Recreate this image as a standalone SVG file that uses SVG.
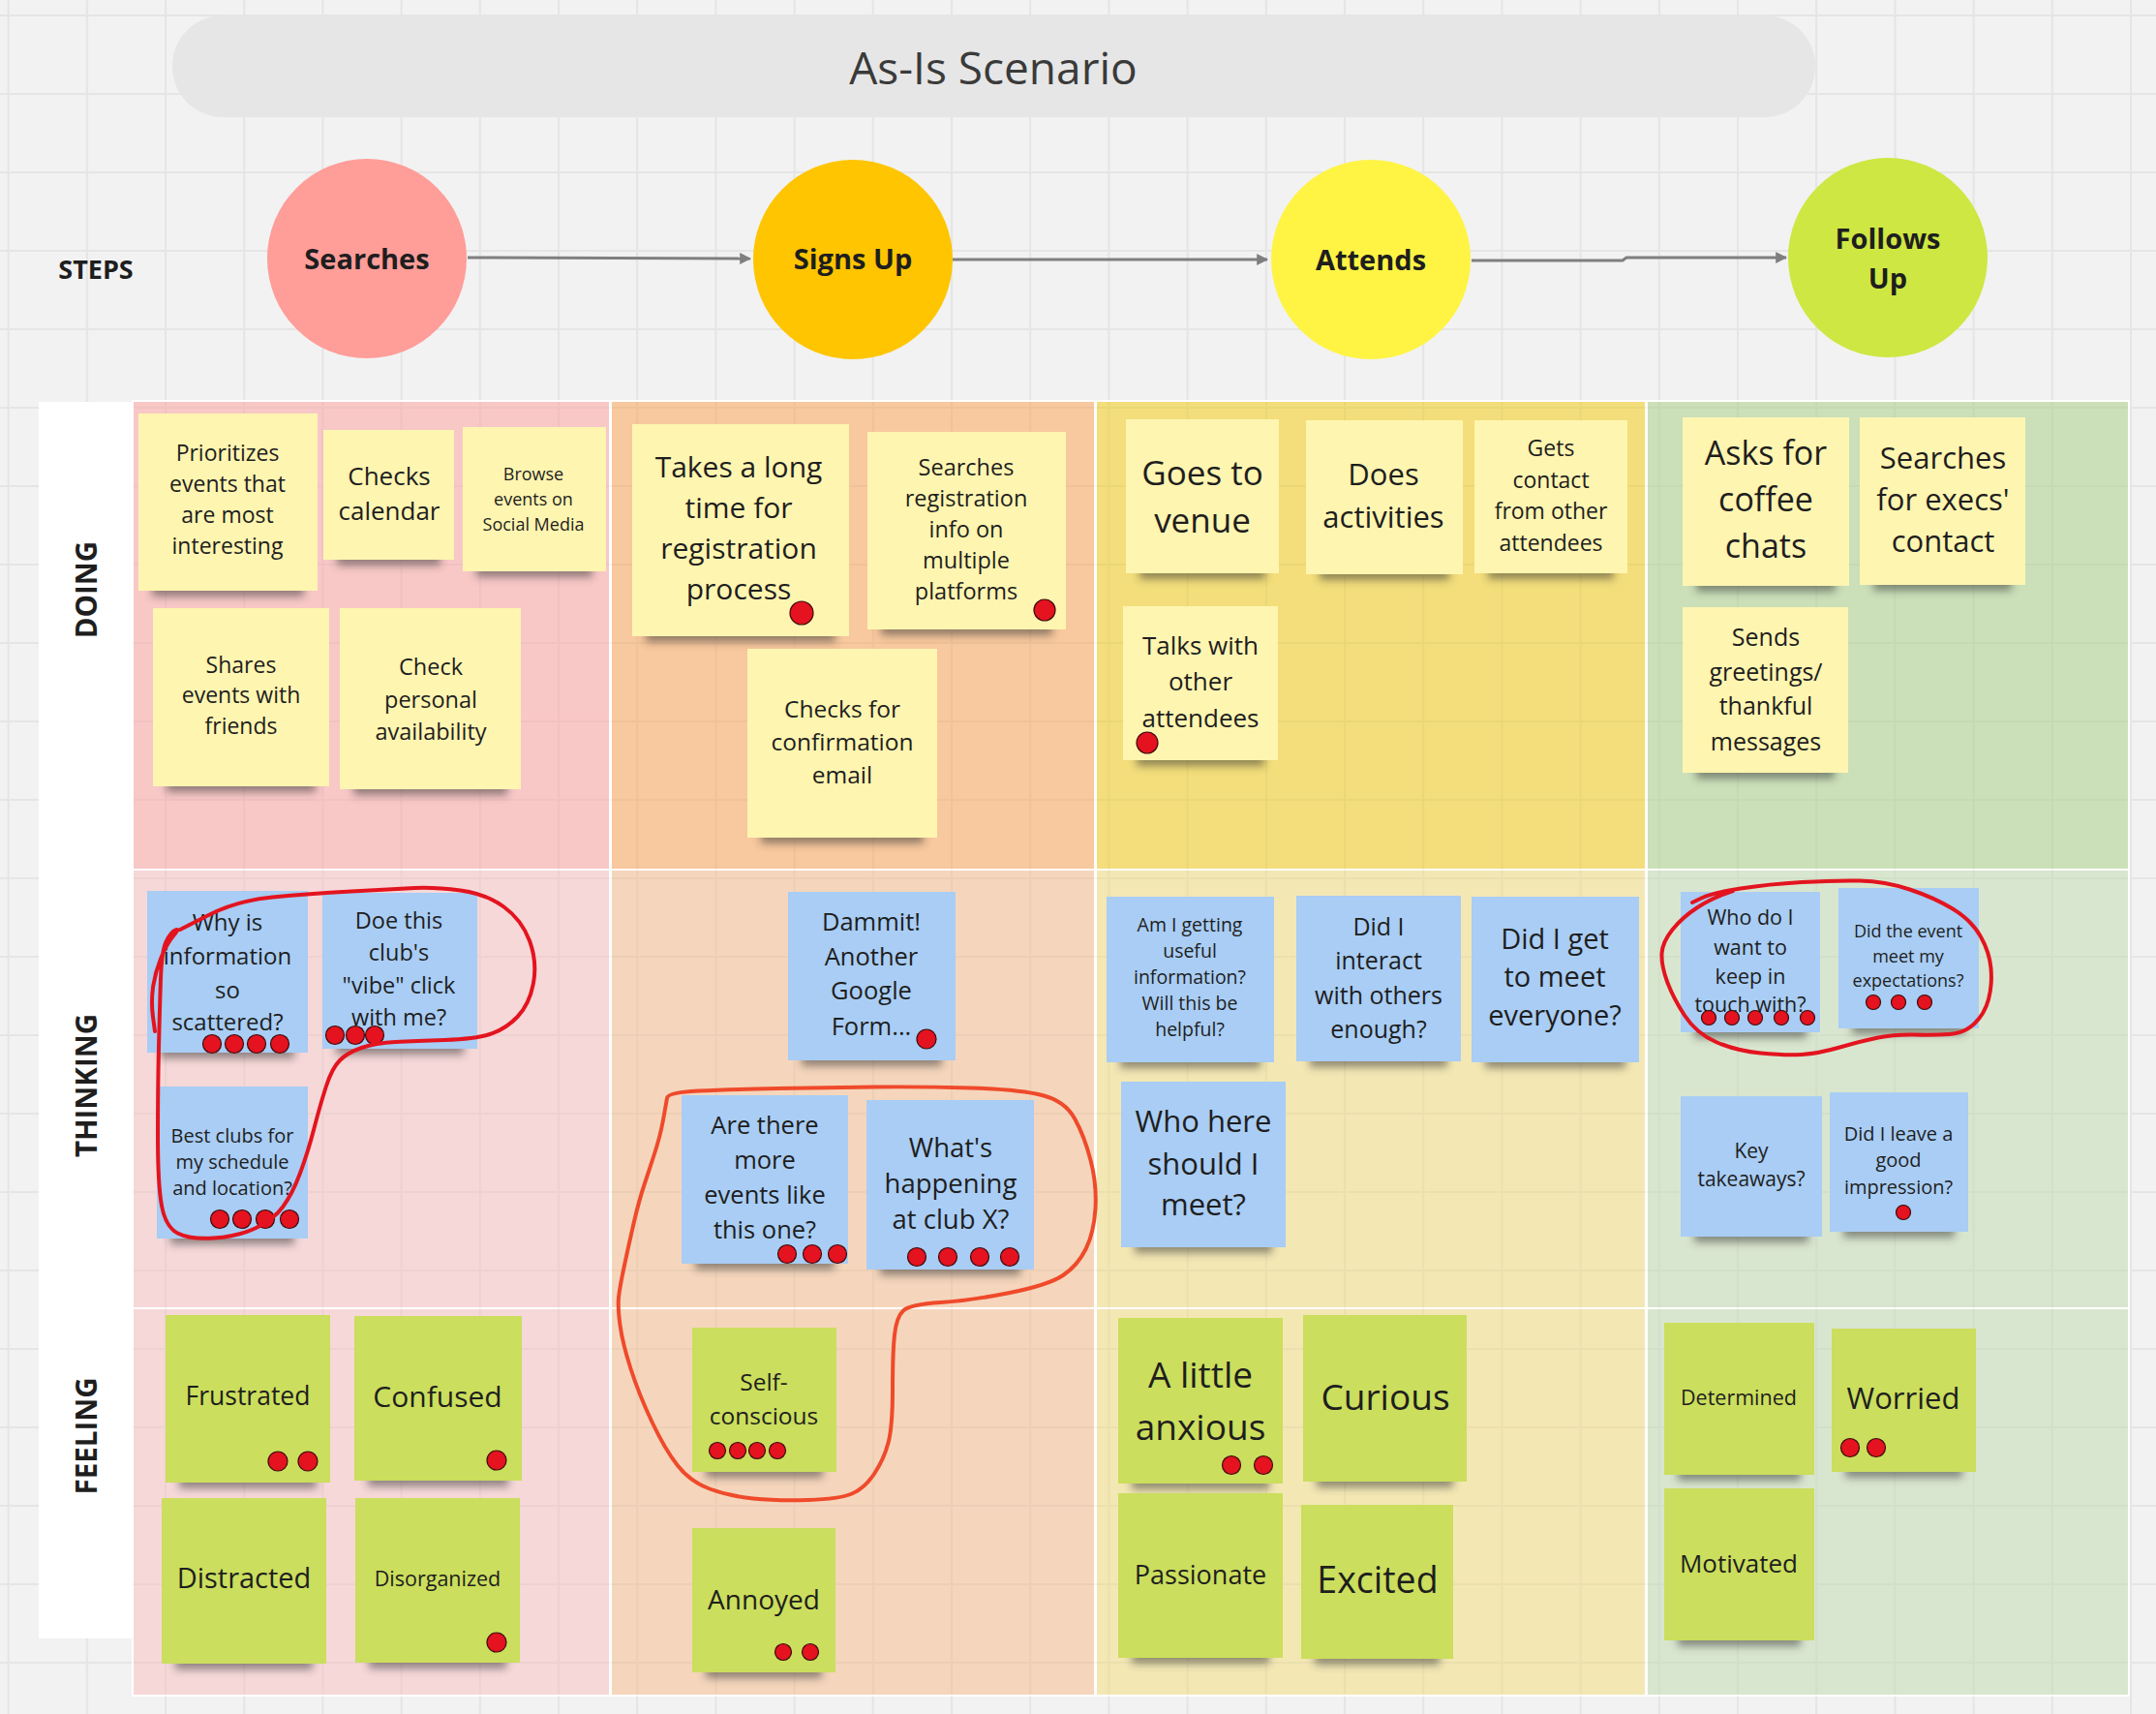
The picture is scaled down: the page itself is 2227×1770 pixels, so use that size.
<svg xmlns="http://www.w3.org/2000/svg" width="2227" height="1770" viewBox="0 0 2227 1770">
<defs>
<pattern id="g1" patternUnits="userSpaceOnUse" x="7.6" y="15" width="81.2" height="81"><path d="M0,1 H81.2 M1,0 V81" stroke="#000" stroke-opacity="0.055" stroke-width="2" fill="none"/></pattern>
<pattern id="g2" patternUnits="userSpaceOnUse" x="7.6" y="15" width="81.2" height="81"><path d="M0,1 H81.2 M1,0 V81" stroke="#000" stroke-opacity="0.03" stroke-width="2" fill="none"/></pattern>
<filter id="blur" x="-20%" y="-100%" width="140%" height="300%"><feGaussianBlur stdDeviation="4"/></filter>
<marker id="ah" viewBox="0 0 10 10" refX="9" refY="5" markerWidth="4" markerHeight="4" orient="auto"><path d="M0,0 L10,5 L0,10 z" fill="#7f7f7f"/></marker>
<style>
.sh{fill:#2e2e2e;opacity:.5;filter:url(#blur)}
.ny{fill:#fef5b0}.nb{fill:#a9cdf4}.ng{fill:#cbde5d}
.t{font-family:"Open Sans","Liberation Sans",sans-serif;fill:#1e1e1e;text-anchor:middle}
.b{font-family:"Open Sans","Liberation Sans",sans-serif;font-weight:bold;fill:#1e1e1e;text-anchor:middle}
.dot{fill:#e4131f;stroke:#3a0c0c;stroke-width:1.2}
.loop{fill:none;stroke-width:4;stroke-linecap:round;stroke-linejoin:round}
.cn{fill:none;stroke:#7f7f7f;stroke-width:3;marker-end:url(#ah)}
</style>
</defs>
<rect width="2227" height="1770" fill="#f2f2f2"/>
<rect width="2227" height="1770" fill="url(#g1)"/>
<g id="title"><rect x="178" y="16" width="1697" height="105" rx="52" fill="#e6e6e6"/><text class="t" x="1026" y="87" font-size="46" style="fill:#3a3a3a">As-Is Scenario</text></g>
<text class="b" x="99" y="288" font-size="27">STEPS</text>
<g id="lanes">
<rect x="40" y="415" width="98" height="1277" fill="#fff"/>
<rect x="136" y="413" width="2064" height="1339" fill="#fff"/>
<rect x="138" y="415" width="491" height="482" fill="#f8c8c7"/>
<rect x="632" y="415" width="498" height="482" fill="#f8c89e"/>
<rect x="1133" y="415" width="566" height="482" fill="#f3de7b"/>
<rect x="1702" y="415" width="496" height="482" fill="#cbe0b9"/>
<rect x="138" y="899" width="491" height="451" fill="#f6d8d8"/>
<rect x="632" y="899" width="498" height="451" fill="#f5d6bc"/>
<rect x="1133" y="899" width="566" height="451" fill="#f3e7b4"/>
<rect x="1702" y="899" width="496" height="451" fill="#d9e6cf"/>
<rect x="138" y="1352" width="491" height="398" fill="#f6d8d8"/>
<rect x="632" y="1352" width="498" height="398" fill="#f5d6bc"/>
<rect x="1133" y="1352" width="566" height="398" fill="#f3e7b4"/>
<rect x="1702" y="1352" width="496" height="398" fill="#d9e6cf"/>
<rect x="138" y="415" width="2060" height="1335" fill="url(#g2)"/>
<text class="b" x="100" y="609" font-size="29.5" transform="rotate(-90 100 609)" text-anchor="middle">DOING</text>
<text class="b" x="100" y="1121" font-size="29.5" transform="rotate(-90 100 1121)">THINKING</text>
<text class="b" x="100" y="1483" font-size="29.5" transform="rotate(-90 100 1483)">FEELING</text>
</g>
<g id="connectors">
<path class="cn" d="M483,266 L775,267"/>
<path class="cn" d="M984,268 L1309,268"/>
<path class="cn" d="M1520,269 L1676,269 L1680,266 L1845,266"/>
</g>
<g id="s1"><circle cx="379" cy="267" r="103" fill="#ff9d99"/><text class="b" x="379" y="278" font-size="29">Searches</text></g>
<g id="s2"><circle cx="881" cy="268" r="103" fill="#fec500"/><text class="b" x="881" y="278" font-size="29">Signs Up</text></g>
<g id="s3"><circle cx="1416" cy="268" r="103" fill="#fff444"/><text class="b" x="1416" y="279" font-size="29">Attends</text></g>
<g id="s4"><circle cx="1950" cy="266" r="103" fill="#cee742"/><text class="b" x="1950" font-size="29"><tspan x="1950" y="257">Follows</tspan><tspan x="1950" y="298">Up</tspan></text></g>

<g id="n1"><rect class="sh" x="157" y="602" width="157" height="14"/><rect class="ny" x="143" y="427" width="185" height="183"/><text class="t" font-size="23"><tspan x="235" y="476">Prioritizes</tspan><tspan x="235" y="508">events that</tspan><tspan x="235" y="540">are most</tspan><tspan x="235" y="572">interesting</tspan></text></g>
<g id="n2"><rect class="sh" x="348" y="570" width="107" height="14"/><rect class="ny" x="334" y="444" width="135" height="134"/><text class="t" font-size="26"><tspan x="402" y="501">Checks</tspan><tspan x="402" y="537">calendar</tspan></text></g>
<g id="n3"><rect class="sh" x="492" y="582" width="120" height="14"/><rect class="ny" x="478" y="441" width="148" height="149"/><text class="t" font-size="18"><tspan x="551" y="496">Browse</tspan><tspan x="551" y="522">events on</tspan><tspan x="551" y="548">Social Media</tspan></text></g>
<g id="n4"><rect class="sh" x="172" y="804" width="154" height="14"/><rect class="ny" x="158" y="628" width="182" height="184"/><text class="t" font-size="23"><tspan x="249" y="695">Shares</tspan><tspan x="249" y="726">events with</tspan><tspan x="249" y="758">friends</tspan></text></g>
<g id="n5"><rect class="sh" x="365" y="807" width="159" height="14"/><rect class="ny" x="351" y="628" width="187" height="187"/><text class="t" font-size="23.5"><tspan x="445" y="697">Check</tspan><tspan x="445" y="731">personal</tspan><tspan x="445" y="764">availability</tspan></text></g>
<g id="n6"><rect class="sh" x="667" y="649" width="196" height="14"/><rect class="ny" x="653" y="438" width="224" height="219"/><text class="t" font-size="30"><tspan x="763" y="493">Takes a long</tspan><tspan x="763" y="535">time for</tspan><tspan x="763" y="577">registration</tspan><tspan x="763" y="619">process</tspan></text><circle class="dot" cx="828" cy="633" r="12"/></g>
<g id="n7"><rect class="sh" x="910" y="642" width="177" height="14"/><rect class="ny" x="896" y="446" width="205" height="204"/><text class="t" font-size="23.5"><tspan x="998" y="491">Searches</tspan><tspan x="998" y="523">registration</tspan><tspan x="998" y="555">info on</tspan><tspan x="998" y="587">multiple</tspan><tspan x="998" y="619">platforms</tspan></text><circle class="dot" cx="1079" cy="630" r="11"/></g>
<g id="n8"><rect class="sh" x="786" y="857" width="168" height="14"/><rect class="ny" x="772" y="670" width="196" height="195"/><text class="t" font-size="24.5"><tspan x="870" y="741">Checks for</tspan><tspan x="870" y="775">confirmation</tspan><tspan x="870" y="809">email</tspan></text></g>
<g id="n9"><rect class="sh" x="1177" y="584" width="130" height="14"/><rect class="ny" x="1163" y="433" width="158" height="159"/><text class="t" font-size="35"><tspan x="1242" y="501">Goes to</tspan><tspan x="1242" y="550">venue</tspan></text></g>
<g id="n10"><rect class="sh" x="1363" y="585" width="134" height="14"/><rect class="ny" x="1349" y="434" width="162" height="159"/><text class="t" font-size="31"><tspan x="1429" y="501">Does</tspan><tspan x="1429" y="545">activities</tspan></text></g>
<g id="n11"><rect class="sh" x="1537" y="584" width="130" height="14"/><rect class="ny" x="1523" y="434" width="158" height="158"/><text class="t" font-size="23"><tspan x="1602" y="471">Gets</tspan><tspan x="1602" y="504">contact</tspan><tspan x="1602" y="536">from other</tspan><tspan x="1602" y="569">attendees</tspan></text></g>
<g id="n12"><rect class="sh" x="1174" y="777" width="132" height="14"/><rect class="ny" x="1160" y="626" width="160" height="159"/><text class="t" font-size="26"><tspan x="1240" y="676">Talks with</tspan><tspan x="1240" y="713">other</tspan><tspan x="1240" y="751">attendees</tspan></text><circle class="dot" cx="1185" cy="767" r="11"/></g>
<g id="n13"><rect class="sh" x="1752" y="597" width="144" height="14"/><rect class="ny" x="1738" y="431" width="172" height="174"/><text class="t" font-size="34"><tspan x="1824" y="480">Asks for</tspan><tspan x="1824" y="528">coffee</tspan><tspan x="1824" y="576">chats</tspan></text></g>
<g id="n14"><rect class="sh" x="1935" y="596" width="143" height="14"/><rect class="ny" x="1921" y="431" width="171" height="173"/><text class="t" font-size="31"><tspan x="2007" y="484">Searches</tspan><tspan x="2007" y="527">for execs'</tspan><tspan x="2007" y="570">contact</tspan></text></g>
<g id="n15"><rect class="sh" x="1752" y="790" width="143" height="14"/><rect class="ny" x="1738" y="627" width="171" height="171"/><text class="t" font-size="25"><tspan x="1824" y="667">Sends</tspan><tspan x="1824" y="703">greetings/</tspan><tspan x="1824" y="738">thankful</tspan><tspan x="1824" y="775">messages</tspan></text></g>

<g id="n16"><rect class="sh" x="166" y="1079" width="138" height="14"/><rect class="nb" x="152" y="920" width="166" height="167"/><text class="t" font-size="24"><tspan x="235" y="961">Why is</tspan><tspan x="235" y="996">information</tspan><tspan x="235" y="1031">so</tspan><tspan x="235" y="1064">scattered?</tspan></text><circle class="dot" cx="219" cy="1078" r="9.5"/><circle class="dot" cx="242" cy="1078" r="9.5"/><circle class="dot" cx="265" cy="1078" r="9.5"/><circle class="dot" cx="289" cy="1078" r="9.5"/></g>
<g id="n17"><rect class="sh" x="347" y="1075" width="132" height="14"/><rect class="nb" x="333" y="922" width="160" height="161"/><text class="t" font-size="23.5"><tspan x="412" y="959">Doe this</tspan><tspan x="412" y="992">club's</tspan><tspan x="412" y="1026">"vibe" click</tspan><tspan x="412" y="1059">with me?</tspan></text><circle class="dot" cx="346" cy="1069" r="9.5"/><circle class="dot" cx="367" cy="1069" r="9.5"/><circle class="dot" cx="387" cy="1069" r="9.5"/></g>
<g id="n18"><rect class="sh" x="176" y="1271" width="128" height="14"/><rect class="nb" x="162" y="1122" width="156" height="157"/><text class="t" font-size="20"><tspan x="240" y="1180">Best clubs for</tspan><tspan x="240" y="1207">my schedule</tspan><tspan x="240" y="1234">and location?</tspan></text><circle class="dot" cx="227" cy="1259" r="9.5"/><circle class="dot" cx="250" cy="1259" r="9.5"/><circle class="dot" cx="274" cy="1259" r="9.5"/><circle class="dot" cx="299" cy="1259" r="9.5"/></g>
<g id="n19"><rect class="sh" x="828" y="1087" width="145" height="14"/><rect class="nb" x="814" y="921" width="173" height="174"/><text class="t" font-size="25.5"><tspan x="900" y="961">Dammit!</tspan><tspan x="900" y="997">Another</tspan><tspan x="900" y="1032">Google</tspan><tspan x="900" y="1069">Form...</tspan></text><circle class="dot" cx="957" cy="1073" r="10"/></g>
<g id="n20"><rect class="sh" x="718" y="1297" width="144" height="14"/><rect class="nb" x="704" y="1131" width="172" height="174"/><text class="t" font-size="25.5"><tspan x="790" y="1171">Are there</tspan><tspan x="790" y="1207">more</tspan><tspan x="790" y="1243">events like</tspan><tspan x="790" y="1279">this one?</tspan></text><circle class="dot" cx="813" cy="1295" r="9.5"/><circle class="dot" cx="839" cy="1295" r="9.5"/><circle class="dot" cx="865" cy="1295" r="9.5"/></g>
<g id="n21"><rect class="sh" x="909" y="1303" width="145" height="14"/><rect class="nb" x="895" y="1136" width="173" height="175"/><text class="t" font-size="27.5"><tspan x="982" y="1195">What's</tspan><tspan x="982" y="1232">happening</tspan><tspan x="982" y="1269">at club X?</tspan></text><circle class="dot" cx="947" cy="1298" r="9.5"/><circle class="dot" cx="979" cy="1298" r="9.5"/><circle class="dot" cx="1012" cy="1298" r="9.5"/><circle class="dot" cx="1043" cy="1298" r="9.5"/></g>
<g id="n22"><rect class="sh" x="1157" y="1089" width="145" height="14"/><rect class="nb" x="1143" y="926" width="173" height="171"/><text class="t" font-size="19.5"><tspan x="1229" y="962">Am I getting</tspan><tspan x="1229" y="989">useful</tspan><tspan x="1229" y="1016">information?</tspan><tspan x="1229" y="1043">Will this be</tspan><tspan x="1229" y="1070">helpful?</tspan></text></g>
<g id="n23"><rect class="sh" x="1353" y="1088" width="142" height="14"/><rect class="nb" x="1339" y="925" width="170" height="171"/><text class="t" font-size="25"><tspan x="1424" y="966">Did I</tspan><tspan x="1424" y="1001">interact</tspan><tspan x="1424" y="1037">with others</tspan><tspan x="1424" y="1072">enough?</tspan></text></g>
<g id="n24"><rect class="sh" x="1534" y="1089" width="145" height="14"/><rect class="nb" x="1520" y="926" width="173" height="171"/><text class="t" font-size="29"><tspan x="1606" y="980">Did I get</tspan><tspan x="1606" y="1019">to meet</tspan><tspan x="1606" y="1059">everyone?</tspan></text></g>
<g id="n25"><rect class="sh" x="1172" y="1280" width="142" height="14"/><rect class="nb" x="1158" y="1117" width="170" height="171"/><text class="t" font-size="31"><tspan x="1243" y="1169">Who here</tspan><tspan x="1243" y="1213">should I</tspan><tspan x="1243" y="1255">meet?</tspan></text></g>
<g id="n26"><rect class="sh" x="1750" y="1058" width="116" height="14"/><rect class="nb" x="1736" y="921" width="144" height="145"/><text class="t" font-size="21.5"><tspan x="1808" y="955">Who do I</tspan><tspan x="1808" y="986">want to</tspan><tspan x="1808" y="1016">keep in</tspan><tspan x="1808" y="1045">touch with?</tspan></text><circle class="dot" cx="1765" cy="1051" r="7.5"/><circle class="dot" cx="1789" cy="1051" r="7.5"/><circle class="dot" cx="1813" cy="1051" r="7.5"/><circle class="dot" cx="1840" cy="1051" r="7.5"/><circle class="dot" cx="1867" cy="1051" r="7.5"/></g>
<g id="n27"><rect class="sh" x="1913" y="1054" width="117" height="14"/><rect class="nb" x="1899" y="917" width="145" height="145"/><text class="t" font-size="18"><tspan x="1971" y="968">Did the event</tspan><tspan x="1971" y="994">meet my</tspan><tspan x="1971" y="1019">expectations?</tspan></text><circle class="dot" cx="1935" cy="1035" r="7.5"/><circle class="dot" cx="1961" cy="1035" r="7.5"/><circle class="dot" cx="1988" cy="1035" r="7.5"/></g>
<g id="n28"><rect class="sh" x="1750" y="1269" width="118" height="14"/><rect class="nb" x="1736" y="1132" width="146" height="145"/><text class="t" font-size="21"><tspan x="1809" y="1196">Key</tspan><tspan x="1809" y="1225">takeaways?</tspan></text></g>
<g id="n29"><rect class="sh" x="1904" y="1264" width="115" height="14"/><rect class="nb" x="1890" y="1128" width="143" height="144"/><text class="t" font-size="20"><tspan x="1961" y="1178">Did I leave a</tspan><tspan x="1961" y="1205">good</tspan><tspan x="1961" y="1233">impression?</tspan></text><circle class="dot" cx="1966" cy="1252" r="7.5"/></g>

<g id="n30"><rect class="sh" x="185" y="1523" width="142" height="14"/><rect class="ng" x="171" y="1358" width="170" height="173"/><text class="t" font-size="26.5"><tspan x="256" y="1451">Frustrated</tspan></text><circle class="dot" cx="287" cy="1509" r="10"/><circle class="dot" cx="318" cy="1509" r="10"/></g>
<g id="n31"><rect class="sh" x="380" y="1521" width="145" height="14"/><rect class="ng" x="366" y="1359" width="173" height="170"/><text class="t" font-size="30"><tspan x="452" y="1453">Confused</tspan></text><circle class="dot" cx="513" cy="1508" r="10"/></g>
<g id="n32"><rect class="sh" x="181" y="1710" width="142" height="14"/><rect class="ng" x="167" y="1547" width="170" height="171"/><text class="t" font-size="29"><tspan x="252" y="1640">Distracted</tspan></text></g>
<g id="n33"><rect class="sh" x="381" y="1709" width="142" height="14"/><rect class="ng" x="367" y="1547" width="170" height="170"/><text class="t" font-size="21.5"><tspan x="452" y="1638">Disorganized</tspan></text><circle class="dot" cx="513" cy="1696" r="10"/></g>
<g id="n34"><rect class="sh" x="729" y="1512" width="121" height="14"/><rect class="ng" x="715" y="1371" width="149" height="149"/><text class="t" font-size="24.5"><tspan x="789" y="1436">Self-</tspan><tspan x="789" y="1471">conscious</tspan></text><circle class="dot" cx="741" cy="1498" r="8.5"/><circle class="dot" cx="762" cy="1498" r="8.5"/><circle class="dot" cx="782" cy="1498" r="8.5"/><circle class="dot" cx="803" cy="1498" r="8.5"/></g>
<g id="n35"><rect class="sh" x="729" y="1719" width="120" height="14"/><rect class="ng" x="715" y="1578" width="148" height="149"/><text class="t" font-size="28"><tspan x="789" y="1662">Annoyed</tspan></text><circle class="dot" cx="809" cy="1706" r="8.5"/><circle class="dot" cx="837" cy="1706" r="8.5"/></g>
<g id="n36"><rect class="sh" x="1169" y="1524" width="142" height="14"/><rect class="ng" x="1155" y="1361" width="170" height="171"/><text class="t" font-size="37"><tspan x="1240" y="1433">A little</tspan><tspan x="1240" y="1487">anxious</tspan></text><circle class="dot" cx="1272" cy="1513" r="9.5"/><circle class="dot" cx="1305" cy="1513" r="9.5"/></g>
<g id="n37"><rect class="sh" x="1360" y="1522" width="141" height="14"/><rect class="ng" x="1346" y="1358" width="169" height="172"/><text class="t" font-size="37"><tspan x="1431" y="1456">Curious</tspan></text></g>
<g id="n38"><rect class="sh" x="1169" y="1704" width="142" height="14"/><rect class="ng" x="1155" y="1542" width="170" height="170"/><text class="t" font-size="27"><tspan x="1240" y="1636">Passionate</tspan></text></g>
<g id="n39"><rect class="sh" x="1358" y="1705" width="129" height="14"/><rect class="ng" x="1344" y="1554" width="157" height="159"/><text class="t" font-size="37.5"><tspan x="1423" y="1645">Excited</tspan></text></g>
<g id="n40"><rect class="sh" x="1733" y="1515" width="127" height="14"/><rect class="ng" x="1719" y="1366" width="155" height="157"/><text class="t" font-size="21.5"><tspan x="1796" y="1451">Determined</tspan></text></g>
<g id="n41"><rect class="sh" x="1906" y="1512" width="121" height="14"/><rect class="ng" x="1892" y="1372" width="149" height="148"/><text class="t" font-size="31"><tspan x="1966" y="1455">Worried</tspan></text><circle class="dot" cx="1911" cy="1495" r="9.5"/><circle class="dot" cx="1938" cy="1495" r="9.5"/></g>
<g id="n42"><rect class="sh" x="1733" y="1686" width="127" height="14"/><rect class="ng" x="1719" y="1537" width="155" height="157"/><text class="t" font-size="26"><tspan x="1796" y="1624">Motivated</tspan></text></g>

<g id="loops">
<path class="loop" stroke="#e3141f" d="M186,960 L215.5,945 Q245,930 281.5,926.5 Q318,923 363,920.5 Q408,918 428.5,917 Q449,916 475.5,919.5 Q502,923 520.5,936.5 Q539,950 547,971.5 Q555,993 551,1015 Q547,1037 534.5,1050 Q522,1063 506,1068 Q490,1073 459.5,1074 Q429,1075 408.5,1076 Q388,1077 373.5,1082 Q359,1087 351,1095 Q343,1103 337,1121.5 Q331,1140 324.5,1165 Q318,1190 310,1211.5 Q302,1233 292,1246.5 Q282,1260 263.5,1268.5 Q245,1277 220.5,1278.5 Q196,1280 183.5,1273.5 Q171,1267 167,1245 Q163,1223 163,1173 Q163,1123 164,1081.5 Q165,1040 166,1011 Q167,982 171.5,972.5 Q176,963 181,960.5 Q186,958 179,966.5 Q172,975 166,990 Q160,1005 158,1020 Q156,1035 158,1050 L160,1065"/>
<path class="loop" stroke="#ef4a2b" d="M689,1134 Q690,1128 721.5,1126.5 Q753,1125 803,1124 Q853,1123 903,1122.5 Q953,1122 1003,1123.5 Q1053,1125 1076.5,1131 Q1100,1137 1110,1155 Q1120,1173 1126.5,1198 Q1133,1223 1131.5,1248 Q1130,1273 1121.5,1290 Q1113,1307 1098,1317 Q1083,1327 1043,1335 Q1003,1343 971.5,1345 Q940,1347 933,1353.5 Q926,1360 924,1378.5 Q922,1397 922,1435 Q922,1473 917.5,1490 Q913,1507 903,1522 Q893,1537 880,1542.5 Q867,1548 835,1549 Q803,1550 778,1547.5 Q753,1545 733,1537.5 Q713,1530 700,1513.5 Q687,1497 673.5,1468.5 Q660,1440 651.5,1413.5 Q643,1387 640.5,1368.5 Q638,1350 639,1340 Q640,1330 645,1306.5 Q650,1283 655,1261.5 Q660,1240 665,1225 Q670,1210 676,1191.5 Q682,1173 685,1156.5 Q688,1140 689,1134 Z"/>
<path class="loop" stroke="#e3141f" d="M1748,932 L1758.5,927 Q1769,922 1798,917.5 Q1827,913 1861,911 Q1895,909 1921,909.5 Q1947,910 1972.5,918.5 Q1998,927 2017,938.5 Q2036,950 2045.5,966.5 Q2055,983 2056.5,1000 Q2058,1017 2054,1032 Q2050,1047 2039.5,1057 Q2029,1067 2013.5,1068 Q1998,1069 1977.5,1068.5 Q1957,1068 1940,1071.5 Q1923,1075 1900.5,1081.5 Q1878,1088 1861,1089 Q1844,1090 1818.5,1087.5 Q1793,1085 1772.5,1076 Q1752,1067 1740,1048.5 Q1728,1030 1722,1013.5 Q1716,997 1716.5,985 Q1717,973 1727.5,960 Q1738,947 1753.5,937 Q1769,927 1790,920"/>
</g>
</svg>
